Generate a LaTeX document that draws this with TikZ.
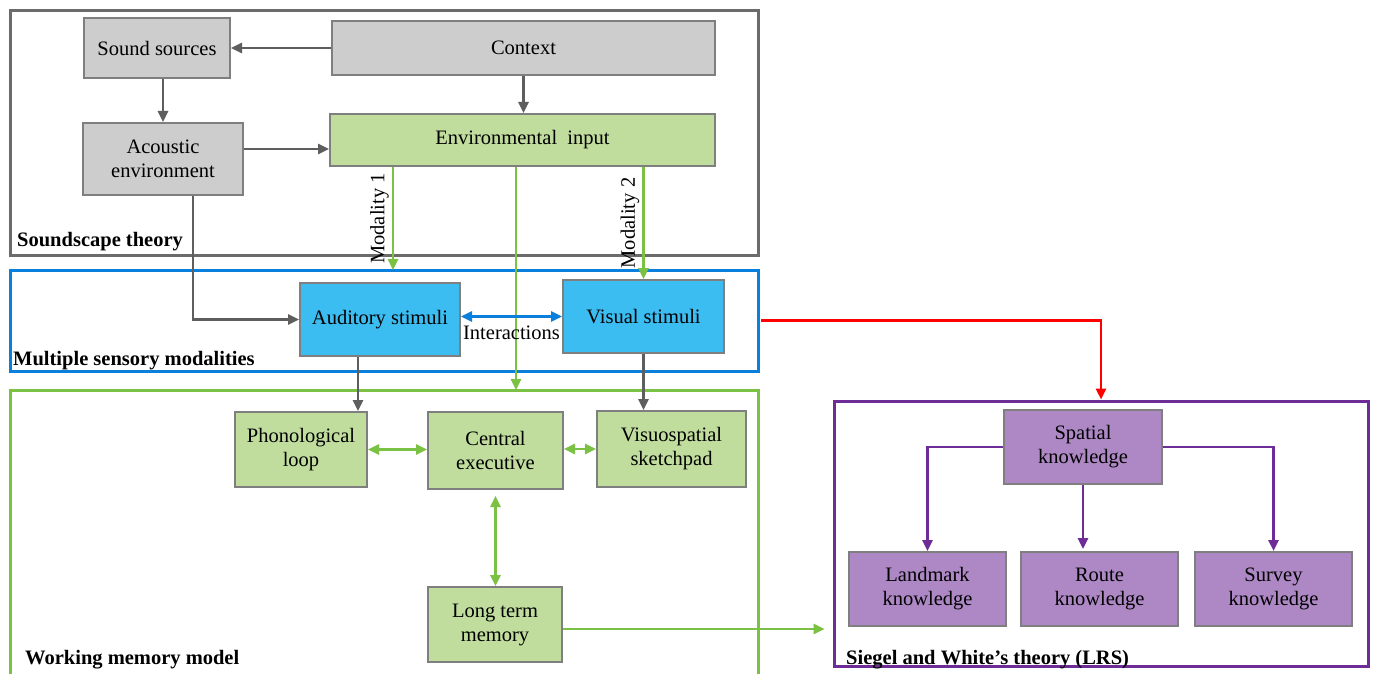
\documentclass[tikz,border=0pt]{standalone}
\usepackage{fontspec}
\setmainfont{Liberation Serif}
\usetikzlibrary{arrows.meta}
\definecolor{boxgray}{HTML}{CDCDCD}
\definecolor{edgegray}{HTML}{7F7F7F}
\definecolor{framegray}{HTML}{6B6B6B}
\definecolor{arrgray}{HTML}{5E5E5E}
\definecolor{boxgreen}{HTML}{C1DD9E}
\definecolor{linegreen}{HTML}{7BC143}
\definecolor{boxblue}{HTML}{3CBDF1}
\definecolor{lineblue}{HTML}{0A80DC}
\definecolor{boxpurple}{HTML}{AD88C5}
\definecolor{linepurple}{HTML}{6E2C96}
\tikzset{
  x=1pt, y=-1pt,
  basebox/.style={draw=edgegray, line width=2pt, inner sep=0pt, align=center,
    font=\fontsize{20.5}{24}\selectfont},
  graybox/.style={basebox, fill=boxgray},
  greenbox/.style={basebox, fill=boxgreen},
  bluebox/.style={basebox, fill=boxblue},
  purplebox/.style={basebox, fill=boxpurple},
  frame/.style={line width=3pt, inner sep=0pt},
  tip/.style={-{Triangle[length=11pt,width=10pt]}},
  tips/.style={{Triangle[length=11pt,width=10pt]}-{Triangle[length=11pt,width=10pt]}},
  garr/.style={tip, draw=arrgray, line width=2.5pt},
  grarr/.style={tip, draw=linegreen, line width=2.5pt},
  grdbl/.style={tips, draw=linegreen, line width=2.5pt},
  parr/.style={tip, draw=linepurple, line width=2.5pt},
  framelabel/.style={font=\bfseries\fontsize{20.5}{24}\selectfont, inner sep=0pt, anchor=base west},
  modlabel/.style={font=\fontsize{20.5}{24}\selectfont, rotate=90, anchor=south, inner sep=3pt},
}
\begin{document}
\begin{tikzpicture}
\useasboundingbox (0,0) rectangle (1373,674);
\fill[white] (0,0) rectangle (1373,674);

% frames
\node[frame, draw=framegray, minimum width=748pt, minimum height=244pt] (sbox) at (384,133) {};
\node[frame, draw=lineblue, minimum width=748pt, minimum height=101pt] (mbox) at (384,320.5) {};
\node[frame, draw=linepurple, minimum width=534pt, minimum height=265pt] (pbox) at (1101,533.5) {};
\draw[line width=3pt, draw=linegreen] (10,676) -- (10,390) -- (758,390) -- (758,676);
\coordinate (wmtop) at (516,390);
\coordinate (m1) at (393,270);

% nodes
\node[graybox, minimum width=146pt, minimum height=60pt] (ss) at (157,48) {Sound sources};
\node[graybox, minimum width=383pt, minimum height=54pt] (ctx) at (523.5,48) {Context};
\node[graybox, minimum width=160pt, minimum height=72pt] (ac) at (163,159) {Acoustic\\environment};
\node[greenbox, minimum width=385pt, minimum height=52pt] (env) at (522.5,140) {Environmental\ \ input};
\node[bluebox, minimum width=160pt, minimum height=73pt] (aud) at (380,319.5) {Auditory stimuli};
\node[bluebox, minimum width=161pt, minimum height=73pt] (vis) at (643.5,316.5) {Visual stimuli};
\node[greenbox, minimum width=132pt, minimum height=75pt] (pho) at (301,449.5) {Phonological\\loop};
\node[greenbox, minimum width=135pt, minimum height=77pt] (ce) at (495.5,450.5) {Central\\executive};
\node[greenbox, minimum width=149pt, minimum height=76pt] (vsp) at (671.5,449) {Visuospatial\\sketchpad};
\node[greenbox, minimum width=134pt, minimum height=75pt] (ltm) at (495,624.5) {Long term\\memory};
\node[purplebox, minimum width=158pt, minimum height=74pt] (sk) at (1083,447) {Spatial\\knowledge};
\node[purplebox, minimum width=157pt, minimum height=74pt] (lk) at (927.5,589) {Landmark\\knowledge};
\node[purplebox, minimum width=157pt, minimum height=74pt] (rk) at (1099.5,589) {Route\\knowledge};
\node[purplebox, minimum width=157pt, minimum height=74pt] (svk) at (1273.5,589) {Survey\\knowledge};

% frame labels
\node[framelabel] (l1) at (17,246) {Soundscape theory};
\node[framelabel] (l2) at (13,365) {Multiple sensory modalities};
\node[framelabel] (l3) at (25,664) {Working memory model};
\node[framelabel] (l4) at (846,664) {Siegel and White’s theory (LRS)};

% connectors
\draw[garr] (ctx.west) -- (ss.east);
\draw[garr] (ss.south -| ac) -- (ac.north);
\draw[garr] (ctx.south) -- (ctx.south |- env.north);
\draw[garr] ([yshift=10pt]ac.east) -- ([yshift=10pt]ac.east -| env.west);
\draw[garr] ([xshift=30pt]ac.south) |- (aud.west);

\draw[grarr] (env.south -| m1) -- node[modlabel] {Modality 1} (m1);
\draw[grarr] (env.south -| vis.north) -- node[modlabel] {Modality 2} (vis.north);
\draw[grarr] (env.south -| wmtop) -- (wmtop);

\draw[tips, draw=lineblue, line width=2.5pt] (aud.east |- vis) -- node[below, font=\fontsize{20.5}{24}\selectfont, inner sep=1pt, yshift=-7pt] {Interactions} (vis.west);

\draw[garr] ([xshift=-22pt]aud.south) -- ([xshift=-22pt]aud.south |- pho.north);
\draw[garr] (vis.south) -- (vis.south |- vsp.north);

\draw[grdbl] (pho.east) -- (pho.east -| ce.west);
\draw[grdbl] (ce.east |- vsp) -- (vsp.west);
\draw[grdbl, shorten <=6pt] (ce.south) -- (ce.south |- ltm.north);
\draw[grarr, shorten >=8pt] ([yshift=-4.5pt]ltm.east) -- ([yshift=-4.5pt]ltm.east -| pbox.west);

\draw[tip, draw=red, line width=2.5pt] ([xshift=1.5pt]mbox.east) -| (pbox.north);

\draw[parr] (sk.west) -| (lk.north);
\draw[parr, shorten >=2pt] (sk.south) -- (sk.south |- rk.north);
\draw[parr] (sk.east) -| (svk.north);
\end{tikzpicture}
\end{document}
